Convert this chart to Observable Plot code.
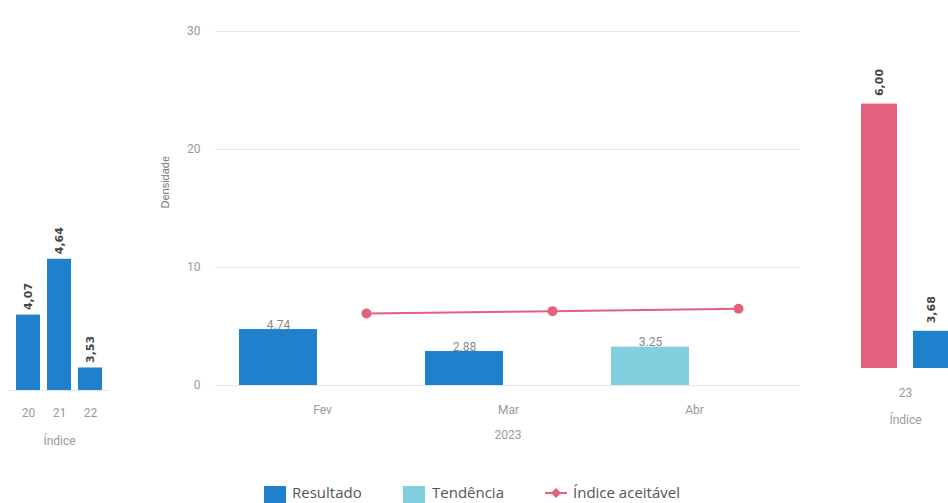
<!DOCTYPE html>
<html>
<head>
<meta charset="utf-8">
<script src="https://cdn.jsdelivr.net/npm/d3@7"></script>
<script src="https://cdn.jsdelivr.net/npm/@observablehq/plot@0.6"></script>
<style>
  html, body { margin: 0; padding: 0; background: #fff; overflow: hidden; }
  #root { position: relative; width: 948px; height: 503px; overflow: hidden; background: #fff; }
  .panel { position: absolute; }
  .legend { position: absolute; left: 0; top: 484px; width: 948px; height: 30px;
            font-family: "Open Sans", "Noto Sans", sans-serif; font-size: 15px; color: #555; }
  .legend .sw { display: inline-block; width: 22px; height: 20px; margin-top: 2px; }
  .legend .lbl { position: absolute; top: -2px; white-space: nowrap; }
</style>
</head>
<body>
<div id="root"></div>
<script>
// ---------- data ----------
const seriesNames = ["Resultado", "Tendência", "Índice aceitável"];
const seriesColors = ["#1f80cc", "#80d0e0", "#e2627e"];

// left panel (yearly index)
const leftYears = ["20", "21", "22"];
const leftValues = [4.07, 4.64, 3.53];
const leftLabels = ["4,07", "4,64", "3,53"];

// middle panel (monthly density, 2023)
const months = ["Fev", "Mar", "Abr"];
const monthValues = [4.74, 2.88, 3.25];
const monthSeries = ["Resultado", "Resultado", "Tendência"];
const monthLabels = ["4.74", "2.88", "3.25"];
const acceptableValues = [6.1, 6.3, 6.5];
const yTicks = [0, 10, 20, 30];
const yearLabel = "2023";
const yAxisLabel = "Densidade";

// right panel
const rightYear = ["23"];
const rightSeries = ["Índice aceitável", "Resultado"];
const rightValues = [6.00, 3.68];
const rightLabels = ["6,00", "3,68"];

const indexDomain = [3.3, 6.2];
const indexLabel = "Índice";

// ---------- helpers ----------
const root = document.getElementById("root");
function place(el, left, top) {
  el.classList.add("panel");
  el.style.left = left + "px";
  el.style.top = top + "px";
  root.appendChild(el);
}
const axisFont = '"Liberation Sans Narrow", "Roboto", "Liberation Sans", sans-serif';
const colorOpts = { domain: seriesNames, range: seriesColors };

// ---------- left panel ----------
const leftData = leftYears.map((y, i) => ({ year: y, value: leftValues[i], label: leftLabels[i], series: "Resultado" }));
const leftPlot = Plot.plot({
  width: 120, height: 385,
  marginLeft: 8, marginRight: 10, marginTop: 16, marginBottom: 85,
  style: { fontFamily: axisFont, fontSize: "12px", color: "#9a9a9a", background: "transparent" },
  x: { domain: leftYears, padding: 0.22, tickSize: 0, tickPadding: 18, label: null },
  y: { domain: indexDomain, clamp: true, axis: null },
  color: colorOpts,
  marks: [
    Plot.barY(leftData, { x: "year", y: "value", fill: "series" }),
    Plot.ruleY([indexDomain[0]], { stroke: "#e4e4e4" }),
    Plot.text(leftData, { x: "year", y: "value", text: "label", rotate: -90, textAnchor: "start", dy: -5,
      fill: "#444", fontWeight: "bold", fontSize: 11, fontFamily: '"DejaVu Sans", sans-serif' }),
    Plot.text([indexLabel], { text: d => d, frameAnchor: "bottom", dy: 54, fill: "#9a9a9a", fontSize: 12 })
  ]
});
place(leftPlot, 0, 90);

// ---------- middle panel ----------
const midData = months.map((m, i) => ({ month: m, value: monthValues[i], series: monthSeries[i], label: monthLabels[i] }));
const accData = months.map((m, i) => ({ month: m, value: acceptableValues[i], series: "Índice aceitável" }));
const midPlot = Plot.plot({
  width: 660, height: 450,
  marginLeft: 65, marginRight: 10, marginTop: 31, marginBottom: 65,
  style: { fontFamily: axisFont, fontSize: "12px", color: "#9a9a9a", background: "transparent" },
  x: { domain: months, paddingInner: 0, paddingOuter: 0.07, tickSize: 0, tickPadding: 20, label: null },
  y: { domain: [0, 30], ticks: yTicks, tickSize: 0, tickPadding: 15, label: null },
  color: colorOpts,
  marks: [
    Plot.ruleY(yTicks, { stroke: "#e6e6e6" }),
    Plot.barY(midData, { x: "month", y: "value", fill: "series", insetLeft: 10, insetRight: 98 }),
    Plot.text(midData, { x: "month", y: "value", text: "label", dx: -44, dy: -1, lineAnchor: "bottom",
      fill: "#888", fontSize: 12 }),
    Plot.line(accData, { x: "month", y: "value", stroke: "series", strokeWidth: 2, dx: 44 }),
    Plot.dot(accData, { x: "month", y: "value", fill: "series", r: 5, dx: 44 }),
    Plot.text([yearLabel], { text: d => d, frameAnchor: "bottom", dy: 53, fill: "#9a9a9a", fontSize: 12 }),
    Plot.text([yAxisLabel], { text: d => d, frameAnchor: "left", rotate: -90, dx: -50, fill: "#777", fontSize: 11,
      fontFamily: '"Liberation Sans", sans-serif' })
  ]
});
place(midPlot, 150, 0);

// ---------- right panel ----------
const rightData = rightSeries.map((s, i) => ({ year: rightYear[0], series: s, value: rightValues[i], label: rightLabels[i] }));
const rightPlot = Plot.plot({
  width: 140, height: 388,
  marginLeft: 20, marginRight: 10, marginTop: 24, marginBottom: 80,
  style: { fontFamily: axisFont, fontSize: "12px", color: "#9a9a9a", background: "transparent", overflow: "visible" },
  fx: { domain: rightYear, padding: 0, tickSize: 0, tickPadding: 20, label: null, axis: "bottom" },
  x: { domain: rightSeries, paddingInner: 0.3, paddingOuter: 0.2, axis: null },
  y: { domain: indexDomain, clamp: true, axis: null },
  color: colorOpts,
  marks: [
    Plot.barY(rightData, { fx: "year", x: "series", y: "value", fill: "series" }),
    Plot.text(rightData, { fx: "year", x: "series", y: "value", text: "label", rotate: -90, textAnchor: "start", dy: -8,
      fill: "#444", fontWeight: "bold", fontSize: 11, fontFamily: '"DejaVu Sans", sans-serif' }),
    Plot.text([indexLabel], { text: d => d, frameAnchor: "bottom", dy: 55, fill: "#9a9a9a", fontSize: 12 })
  ]
});
place(rightPlot, 830, 60);

// ---------- legend ----------
const legend = document.createElement("div");
legend.className = "legend";
const items = [
  { name: seriesNames[0], color: seriesColors[0], type: "box", x: 264, lx: 292 },
  { name: seriesNames[1], color: seriesColors[1], type: "box", x: 403, lx: 432 },
  { name: seriesNames[2], color: seriesColors[2], type: "line", x: 545, lx: 573 }
];
for (const it of items) {
  const sym = document.createElement("div");
  sym.style.position = "absolute";
  sym.style.left = it.x + "px";
  sym.style.top = "0px";
  if (it.type === "box") {
    sym.innerHTML = `<span class="sw" style="background:${it.color}"></span>`;
  } else {
    sym.innerHTML = `<svg width="22" height="14" style="margin-top:1px"><line x1="0" y1="7" x2="22" y2="7" stroke="${it.color}" stroke-width="2"/><path d="M11 2 L16 7 L11 12 L6 7 Z" fill="${it.color}"/></svg>`;
  }
  legend.appendChild(sym);
  const lbl = document.createElement("span");
  lbl.className = "lbl";
  lbl.style.left = it.lx + "px";
  lbl.textContent = it.name;
  legend.appendChild(lbl);
}
root.appendChild(legend);
</script>
</body>
</html>
